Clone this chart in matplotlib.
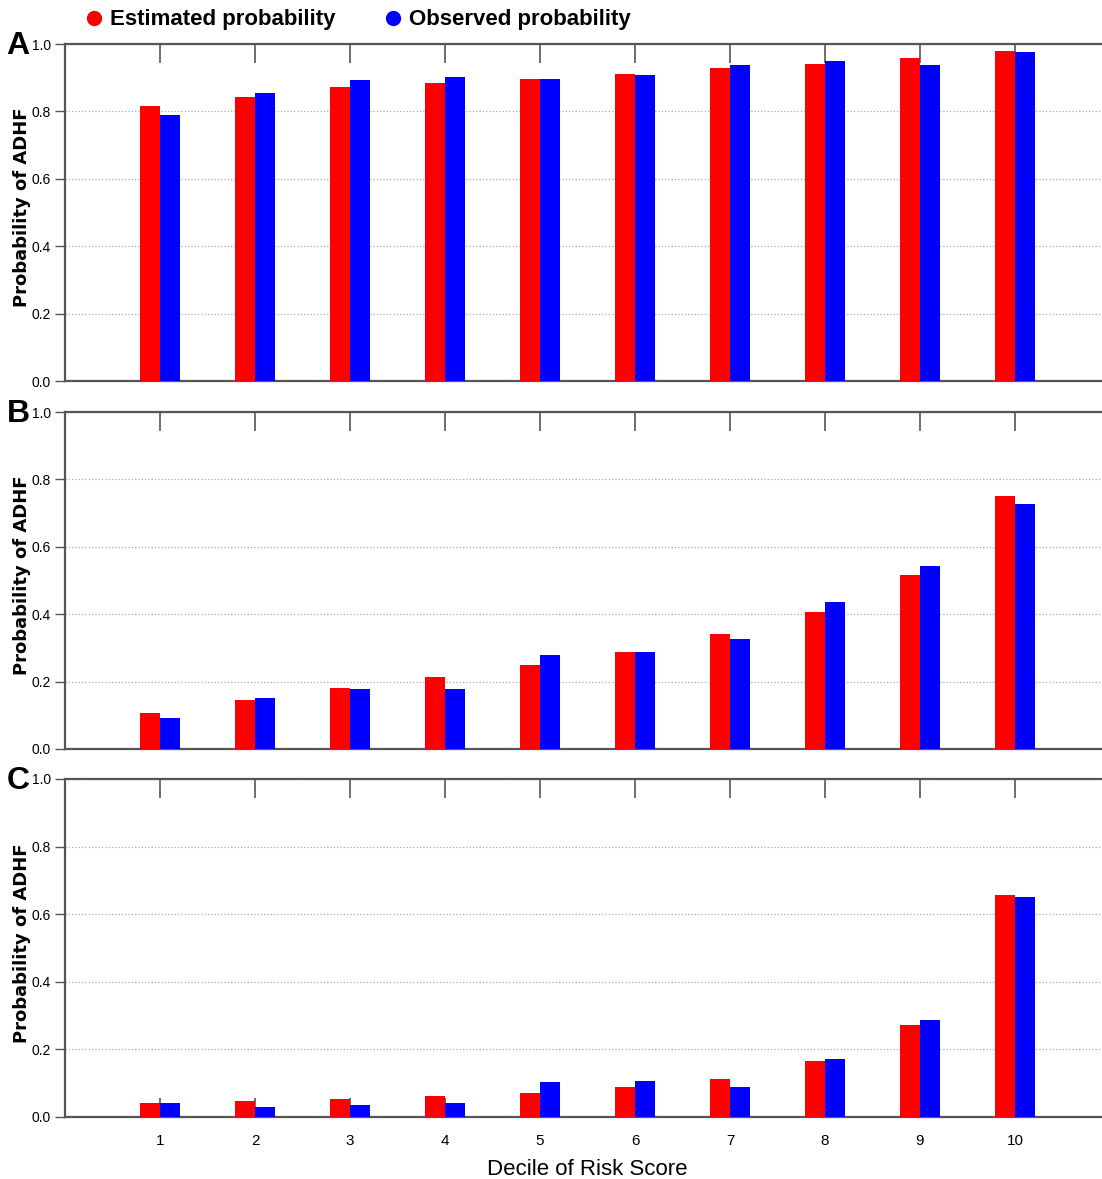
import numpy as np
import matplotlib
matplotlib.use('Agg')
import matplotlib.pyplot as plt
from matplotlib.lines import Line2D

deciles = [1, 2, 3, 4, 5, 6, 7, 8, 9, 10]
est_a = [0.816, 0.843, 0.872, 0.884, 0.896, 0.911, 0.929, 0.941, 0.958, 0.979]
obs_a = [0.789, 0.855, 0.893, 0.902, 0.896, 0.908, 0.938, 0.950, 0.938, 0.976]
est_b = [0.107, 0.145, 0.181, 0.214, 0.249, 0.288, 0.341, 0.407, 0.516, 0.751]
obs_b = [0.092, 0.151, 0.178, 0.178, 0.279, 0.288, 0.326, 0.436, 0.543, 0.727]
est_c = [0.041, 0.047, 0.053, 0.062, 0.071, 0.089, 0.112, 0.166, 0.272, 0.657]
obs_c = [0.041, 0.030, 0.036, 0.041, 0.104, 0.107, 0.089, 0.172, 0.287, 0.651]
panels = ['A', 'B', 'C']
ests = [est_a, est_b, est_c]
obss = [obs_a, obs_b, obs_c]

narrow = ['Liberation Sans Narrow', 'Liberation Sans', 'DejaVu Sans']

W, H = 1102, 1179
fig = plt.figure(figsize=(W / 100, H / 100), dpi=100)

tops = [44, 412, 779]
bots = [381, 749, 1117]
left = 65
x = np.array(deciles)
bw = 0.21

for i in range(3):
    ax = fig.add_axes([left / W, 1 - bots[i] / H, (11 * 95) / W, (bots[i] - tops[i]) / H])
    ax.bar(x - bw / 2, ests[i], bw, color='#ff0000', zorder=3)
    ax.bar(x + bw / 2, obss[i], bw, color='#0000ff', zorder=3)
    ax.set_xlim(0, 11)
    ax.set_ylim(0, 1.0)
    ax.set_yticks([0, 0.2, 0.4, 0.6, 0.8, 1.0])
    ax.set_yticklabels(['0.0', '0.2', '0.4', '0.6', '0.8', '1.0'], family=narrow, fontsize=10)
    ax.yaxis.grid(True, linestyle=':', color='#aaaaaa', linewidth=0.9)
    ax.set_axisbelow(True)
    ax.set_xticks(deciles)
    ax.tick_params(axis='x', direction='in', top=True, length=14, width=1.2, color='#555555')
    ax.tick_params(axis='y', direction='out', length=7, width=1, color='#555555', pad=3)
    if i == 2:
        ax.set_xticklabels([str(d) for d in deciles], family=narrow, fontsize=11)
        ax.tick_params(axis='x', pad=12)
        ax.set_xlabel('Decile of Risk Score', family=narrow, fontsize=16, labelpad=8)
    else:
        ax.set_xticklabels([])
    for s in ['top', 'bottom', 'left']:
        ax.spines[s].set_color('#555555')
        ax.spines[s].set_linewidth(1.6)
    ax.spines['right'].set_visible(False)
    fig.text(22 / W, 1 - (tops[i] + bots[i] - 10) / 2 / H, 'Probability of ADHF', fontsize=13,
             fontweight='bold', rotation=90, ha='center', va='center')
    fig.text(18 / W, 1 - (tops[i] + 2) / H, panels[i], fontsize=23, fontweight='bold',
             family=narrow, ha='center', va='center')

handles = [Line2D([], [], marker='o', linestyle='', color='#ff0000', markersize=10),
           Line2D([], [], marker='o', linestyle='', color='#0000ff', markersize=10)]
fig.legend(handles, ['Estimated probability', 'Observed probability'], loc='center left',
           bbox_to_anchor=(52 / W, 1 - 20 / H), ncol=2, frameon=False, handletextpad=-0.3,
           columnspacing=1.6, prop={'family': narrow, 'size': 16, 'weight': 'bold'})

fig.savefig('out.png', dpi=100)
